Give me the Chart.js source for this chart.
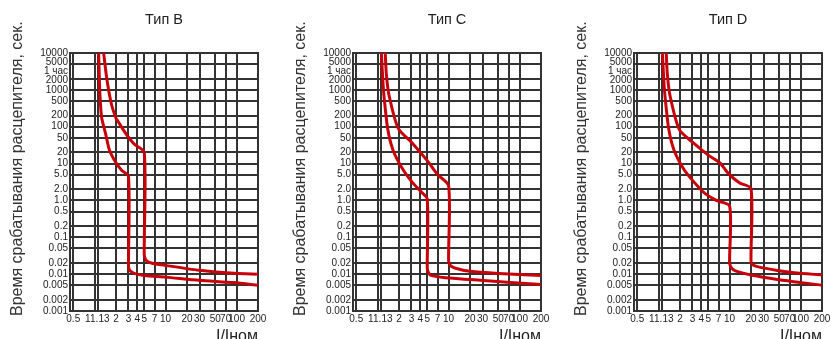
<!DOCTYPE html>
<html>
<head>
<meta charset="utf-8">
<title>Время-токовые характеристики</title>
<script src="https://cdn.jsdelivr.net/npm/chart.js@4.4.3/dist/chart.umd.min.js"></script>
<style>
  html, body { margin: 0; padding: 0; background: #fff; }
  #wrap { position: relative; width: 833px; height: 339px; overflow: hidden; }
  .panel { position: absolute; top: 0; width: 280px; height: 352px; }
</style>
</head>
<body>
<div id="wrap">
  <div class="panel" style="left:0"><canvas id="c-b" width="280" height="352"></canvas></div>
  <div class="panel" style="left:283px"><canvas id="c-c" width="280" height="352"></canvas></div>
  <div class="panel" style="left:564px"><canvas id="c-d" width="280" height="352"></canvas></div>
</div>
<script>
// axes
const xTicks = [0.5, 1, 1.13, 2, 3, 4, 5, 7, 10, 20, 30, 50, 70, 100, 200];
const yGrid = [10000, 5000, 2000, 1000, 500, 200, 100, 50, 20, 10, 5, 2, 1, 0.5, 0.2, 0.1, 0.05, 0.02, 0.01, 0.005, 0.002, 0.001];
const yLabels = ["10000", "5000", "1 час", "2000", "1000", "500", "200", "100", "50", "20", "10", "5.0", "2.0", "1.0", "0.5", "0.2", "0.1", "0.05", "0.02", "0.01", "0.005", "0.002", "0.001"];
// the source squeezes 5000 / 1 час / 2000 evenly between 1000 and 10000
const yLabelAt = [10000, 5623, 3162, 1778, 1000, 500, 200, 100, 50, 20, 10, 5, 2, 1, 0.5, 0.2, 0.1, 0.05, 0.02, 0.01, 0.005, 0.002, 0.001];
const titles = ["Тип B", "Тип C", "Тип D"];

// Тип B
const bLowX = [1.14, 1.17, 1.21, 1.26, 1.43, 1.62, 2, 2.4, 3, 3, 3.05, 3.2, 3.6, 5, 10, 30, 92, 200];
const bLowY = [10000, 1500, 400, 170, 64, 23, 10.5, 6.6, 4.5, 0.0167, 0.014, 0.012, 0.0105, 0.0092, 0.0083, 0.0068, 0.0059, 0.005];
const bHighX = [1.34, 1.49, 1.73, 2, 2.1, 2.75, 3.6, 5, 5, 5.3, 6.3, 10, 30, 92, 200];
const bHighY = [10000, 1900, 400, 170, 147, 65, 34, 20, 0.033, 0.024, 0.02, 0.0172, 0.0127, 0.0105, 0.01];

// Тип C
const cLowX = [1.13, 1.18, 1.23, 1.39, 1.65, 2.24, 3, 4, 5, 5, 5.15, 5.5, 6.5, 9, 28, 200];
const cLowY = [10000, 2000, 680, 85, 23, 7.2, 3.3, 1.8, 1.1, 0.015, 0.0115, 0.0095, 0.0087, 0.008, 0.0068, 0.0052];
const cHighX = [1.28, 1.33, 1.45, 1.95, 3, 5, 7, 10, 10, 10.6, 12.5, 20, 50, 200];
const cHighY = [10000, 2500, 700, 90, 38, 12, 5, 2.5, 0.0227, 0.017, 0.0145, 0.0119, 0.0104, 0.0092];

// Тип D
const dLowX = [1.13, 1.18, 1.23, 1.39, 1.65, 2.24, 3, 4.4, 6.5, 10, 10, 10.6, 12.1, 20, 47, 200];
const dLowY = [10000, 2000, 680, 85, 23, 7.2, 3.5, 1.6, 1.0, 0.7, 0.02, 0.0148, 0.0122, 0.0095, 0.0072, 0.005];
const dHighX = [1.28, 1.33, 1.45, 1.95, 3, 5, 7.3, 9.5, 13.7, 20, 20, 21, 24.5, 47, 81, 200];
const dHighY = [10000, 2500, 680, 85, 38, 17, 10.5, 5.5, 3.0, 2.1, 0.0227, 0.018, 0.016, 0.0126, 0.0109, 0.0095];

const RED = "#c8000a";
const GRID = "#333";
const TXT = "#222";
const NB = "\u00a0";

Chart.defaults.font.family = '"Liberation Sans", Arial, sans-serif';
Chart.defaults.color = TXT;

const pts = (xs, ys) => xs.map((x, i) => ({ x, y: ys[i] }));

// "1" and "1.13" sit almost on top of each other, push them apart like the source
const xLabel = (v) => (v === 1 ? "1" + NB.repeat(5) : v === 1.13 ? NB + "1.13" : String(v));

function curve(data) {
  return { data, borderColor: RED, borderWidth: 3, pointRadius: 0, tension: 0.25, fill: false, borderJoinStyle: "round" };
}

function mk(id, title, low, high) {
  new Chart(document.getElementById(id), {
    type: "line",
    data: { datasets: [curve(low), curve(high)] },
    options: {
      responsive: false,
      animation: false,
      devicePixelRatio: 1,
      layout: { padding: { top: 0, right: 22, bottom: 0, left: 0 } },
      plugins: { legend: { display: false }, tooltip: { enabled: false } },
      scales: {
        x: {
          type: "logarithmic", position: "bottom", min: 0.45, max: 200,
          afterBuildTicks: (s) => { s.ticks = xTicks.map((v) => ({ value: v })); },
          ticks: { autoSkip: false, maxRotation: 0, minRotation: 0, padding: 2, font: { size: 10 }, color: TXT, callback: xLabel },
          grid: { color: GRID, lineWidth: 2, drawTicks: false },
          border: { display: true, color: GRID, width: 2 },
          title: { display: true, text: "I/Iном", align: "end", font: { size: 16 }, color: TXT, padding: { top: 0, bottom: 5.8 } },
        },
        xt: {
          type: "linear", position: "top", display: true,
          ticks: { display: false },
          grid: { display: false, drawTicks: false },
          border: { display: false },
          title: { display: true, text: title, font: { size: 14.5 }, color: TXT, padding: { top: 11.3, bottom: 24.3 } },
        },
        y: {
          type: "logarithmic", position: "left", min: 0.001, max: 10000,
          afterBuildTicks: (s) => { s.ticks = yLabelAt.map((v) => ({ value: v })); },
          afterFit: (s) => { s.width = 70; },
          ticks: { autoSkip: false, padding: 2, font: { size: 10 }, color: TXT, callback: (v, i) => yLabels[i] },
          grid: { display: false, drawTicks: false },
          border: { display: true, color: GRID, width: 2 },
          title: { display: true, text: NB.repeat(6) + "Время срабатывания расцепителя, сек.", font: { size: 16 }, color: "#333", padding: { top: 8, bottom: 0 } },
        },
        yg: {
          type: "logarithmic", position: "right", min: 0.001, max: 10000,
          afterBuildTicks: (s) => { s.ticks = yGrid.map((v) => ({ value: v })); },
          ticks: { display: false, autoSkip: false },
          grid: { color: GRID, lineWidth: 2, drawTicks: false },
          border: { display: true, color: GRID, width: 2 },
        },
      },
    },
  });
}

mk("c-b", titles[0], pts(bLowX, bLowY), pts(bHighX, bHighY));
mk("c-c", titles[1], pts(cLowX, cLowY), pts(cHighX, cHighY));
mk("c-d", titles[2], pts(dLowX, dLowY), pts(dHighX, dHighY));
</script>
</body>
</html>
